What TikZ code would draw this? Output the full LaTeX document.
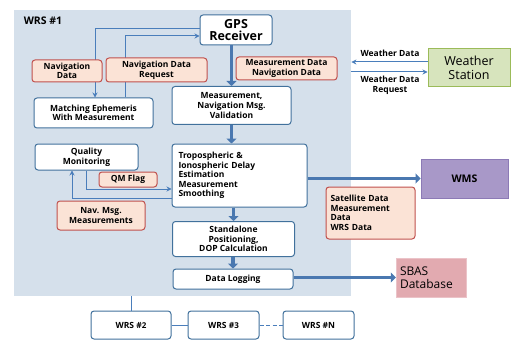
\documentclass[tikz,border=0pt]{standalone}
\usepackage{fontspec}
\setmainfont{Open Sans}
\usetikzlibrary{arrows.meta,calc}
\definecolor{panelfill}{HTML}{D5E0EB}
\definecolor{boxblue}{HTML}{41719C}
\definecolor{arrblue}{HTML}{4A7EBB}
\definecolor{thickblue}{HTML}{4A78B0}
\definecolor{lblred}{HTML}{C0504D}
\definecolor{lblfill}{HTML}{FBE3D6}
\definecolor{wsfill}{HTML}{D7E4BD}
\definecolor{wsdraw}{HTML}{9BBB59}
\definecolor{wmsfill}{HTML}{A898C8}
\definecolor{wmsdraw}{HTML}{8C7AB6}
\definecolor{sbasfill}{HTML}{E2AAB0}
\begin{document}
\begin{tikzpicture}[x=1pt,y=-1pt,
  box/.style={draw=boxblue,line width=1pt,rounded corners=3pt,fill=white,
    font=\bfseries\fontsize{8.5}{9.6}\selectfont,align=center,inner sep=1pt},
  lbl/.style={draw=lblred,line width=1pt,rounded corners=3pt,fill=lblfill,
    font=\bfseries\fontsize{8.5}{9.6}\selectfont,align=center,inner sep=1pt},
  thinarr/.style={draw=arrblue,line width=1pt,-{Stealth[length=5pt,width=5pt]}},
  thickarr/.style={draw=thickblue,line width=3.8pt,-{Triangle[length=5pt,width=10pt]}},
  plain/.style={font=\bfseries\fontsize{8.5}{10}\selectfont,align=center,inner sep=0pt},
  link/.style={draw=arrblue,line width=1pt}
]
\useasboundingbox (0,0) rectangle (511,342);
% panel
\node[fill=panelfill,minimum width=337pt,minimum height=286pt,inner sep=0pt,anchor=north west] (panel) at (14,10) {};
\node[font=\bfseries\fontsize{10.5}{12}\selectfont,inner sep=0pt] (wrs1) at (43,21) {WRS \#1};
% boxes
\node[box,minimum width=72pt,minimum height=30pt,font=\bfseries\fontsize{12.5}{12.5}\selectfont] (gps) at (236,30) {GPS\\Receiver};
\node[box,minimum width=119pt,minimum height=30pt] (match) at (93.5,113) {Matching Ephemeris\\With Measurement};
\node[box,minimum width=119pt,minimum height=38pt] (valid) at (231.5,105.5) {Measurement,\\Navigation Msg.\\Validation};
\node[box,minimum width=103pt,minimum height=26pt] (qm) at (86.5,157) {Quality\\Monitoring};
\node[box,minimum width=135pt,minimum height=63pt,align=left,text width=122pt,inner xsep=6pt] (trop) at (239.5,175.5) {Tropospheric \&\\Ionospheric Delay\\Estimation\\Measurement\\Smoothing};
\node[box,minimum width=122pt,minimum height=35pt] (stand) at (233.5,239) {Standalone\\Positioning,\\DOP Calculation};
\node[box,minimum width=120pt,minimum height=20pt] (log) at (233,279) {Data Logging};
\node[draw=wsdraw,fill=wsfill,line width=1pt,minimum width=82pt,minimum height=38pt,align=center,inner sep=0pt,font=\fontsize{12.5}{13.5}\selectfont] (weather) at (469,68) {Weather\\Station};
\node[draw=wmsdraw,fill=wmsfill,line width=0.8pt,minimum width=87pt,minimum height=39pt,inner sep=0pt,font=\bfseries\fontsize{10.5}{12}\selectfont] (wms) at (464.5,178.5) {WMS};
\node[fill=sbasfill,draw=sbasfill!70!white,minimum width=70pt,minimum height=39pt,align=left,text width=62pt,inner sep=0pt,font=\fontsize{12}{13.5}\selectfont] (sbas) at (431,277.5) {SBAS\\Database};
\node[box,minimum width=80pt,minimum height=28pt] (wrs2) at (131,325) {WRS \#{\footnotesize 2}};
\node[box,minimum width=71pt,minimum height=28pt] (wrs3) at (223.5,325) {WRS \#{\footnotesize 3}};
\node[box,minimum width=71pt,minimum height=28pt] (wrsN) at (318.5,325) {WRS \#N};
% thick arrows
\draw[thickarr] (valid.north |- gps.south) -- (valid.north);
\draw[thickarr] (valid.south) -- (valid.south |- trop.north);
\draw[thickarr] (stand.north |- trop.south) -- (stand.north);
\draw[thickarr] (log.north |- stand.south) -- (log.north);
\draw[thickarr] (trop.east |- wms.west) -- (wms.west);
\draw[thickarr] (log.east |- sbas.west) -- (sbas.west);
% thin arrows
\draw[thinarr] ([yshift=1pt]gps.west) -| ([xshift=1.5pt]match.north);
\draw[thinarr] ([xshift=31.5pt]match.north) |- ([yshift=-6pt]gps.west);
\draw[thinarr] ([yshift=6pt]weather.west) -- ([yshift=6pt]weather.west -| panel.east);
\draw[thinarr] ([yshift=-4pt]weather.west -| panel.east) -- ([yshift=-4pt]weather.west);
\draw[thinarr] (qm.south) |- ([yshift=-13.5pt]trop.west);
\draw[thinarr] ([yshift=-22.5pt]trop.west) -| ([xshift=-14.5pt]qm.south);
% WRS links
\draw[link] (wrs2.north |- panel.south) -- (wrs2.north);
\draw[link] (wrs2.east) -- (wrs3.west);
\draw[link,dashed,dash pattern=on 4pt off 2.5pt] (wrs3.east) -- (wrsN.west);
% labels
\node[lbl,minimum width=70pt,minimum height=22pt] (lnav) at (67,71) {Navigation\\Data};
\node[lbl,minimum width=101pt,minimum height=24pt] (lreq) at (156.5,70) {Navigation Data\\Request};
\node[lbl,minimum width=101pt,minimum height=23pt] (lmeas) at (286.5,68.5) {Measurement Data\\Navigation Data};
\node[lbl,minimum width=58pt,minimum height=15pt] (lqm) at (128,179.5) {QM Flag};
\node[lbl,minimum width=88pt,minimum height=29pt] (lnavmsg) at (101,215.5) {Nav. Msg.\\Measurements};
\node[lbl,minimum width=89pt,minimum height=52pt,align=left,text width=80pt,inner xsep=4.5pt] (lsat) at (370.5,213) {Satellite Data\\Measurement\\Data\\WRS Data};
\node[plain] (lwd) at (390,53) {Weather Data};
\node[plain] (lwdr) at (390,85) {Weather Data\\Request};
\end{tikzpicture}
\end{document}
